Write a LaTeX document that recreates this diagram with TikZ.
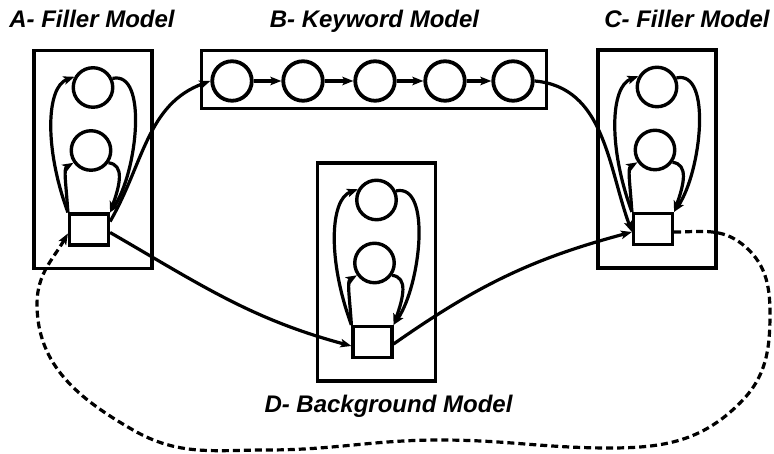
\documentclass[tikz,border=0pt]{standalone}
\usepackage{fontspec}
\setmainfont{Liberation Sans}
\usetikzlibrary{arrows.meta}

\tikzset{
  frame/.style={line width=3.2pt},
  state/.style={circle, draw, line width=3.4pt, minimum size=39.5pt, inner sep=0pt},
  kwstate/.style={state, line width=3.8pt},
  silent/.style={rectangle, draw, line width=3.2pt, minimum width=39pt, minimum height=31pt, inner sep=0pt},
  conn/.style={line width=3.2pt, -{Stealth[length=11pt,width=8.5pt,inset=2.5pt]}},
  backloop/.style={conn, dash pattern=on 7pt off 4pt},
  title/.style={font=\fontsize{24}{27}\selectfont\bfseries\itshape, anchor=base, inner sep=0pt},
  % one filler / background HMM: two emitting states and a silent state in a frame
  hmm/.pic={
    \draw[frame] (-59,-109) rectangle (59,109);
    \node[state] (-c1) at (0,72) {};
    \node[state] (-c2) at (-2,9) {};
    \node[silent] (-sq) at (-4,-70) {};
    \draw[conn] (-sq.north west) .. controls +(-24,65) and +(-28,-10) .. (-c1.150);
    \draw[conn] (-c1.25) .. controls +(36,8) and +(27,40) .. (-sq.north east);
    \draw[conn] (-sq.north west) .. controls +(-2,30) and +(-10,-6) .. (-c2.215);
    \draw[conn] (-c2.-35) .. controls +(16,-2) and +(10,28) .. (-sq.north east);
  }
}

\begin{document}
\begin{tikzpicture}[x=1pt,y=1pt]
  \useasboundingbox (0,0) rectangle (774,454);

  % filler and background models
  \pic (A) at (93,294.5) {hmm};
  \pic (C) at (657,295) {hmm};
  \pic (D) at (376.5,182) {hmm};

  % keyword model: left-to-right chain of states
  \draw[frame] (201.6,345.6) rectangle (546.4,403.4);
  \foreach \i/\x in {1/232,2/303,3/375,4/445,5/513}
    \node[kwstate] (B\i) at (\x,373) {};
  \foreach \i/\j in {1/2,2/3,3/4,4/5}
    \draw[conn] (B\i.east) -- (B\j.west);

  % transitions between the models
  \draw[conn] ([yshift=8pt]A-sq.east) to[out=60,in=200] (B1.west);
  \draw[conn] (B5.east) to[out=-5,in=110] ([yshift=-3pt]C-sq.west);
  \draw[conn] ([yshift=-3pt]A-sq.east) to[out=-30,in=165] ([yshift=-4pt]D-sq.west);
  \draw[conn] ([yshift=-2pt]D-sq.east) to[out=35,in=195] ([yshift=-3pt]C-sq.west);

  % dashed return path from C back to A
  \coordinate (w1) at (742,210);
  \coordinate (w2) at (770,141);
  \coordinate (w3) at (740,51);
  \coordinate (w4) at (610,6);
  \coordinate (w5) at (440,14);
  \coordinate (w6) at (267,4);
  \coordinate (w7) at (133,24);
  \coordinate (w8) at (37,150);
  \draw[backloop] ([yshift=-3pt]C-sq.east) to[out=0,in=142] (w1)
    to[out=-38,in=90] (w2) to[out=-90,in=45] (w3) to[out=-135,in=0] (w4)
    to[out=180,in=0] (w5) to[out=180,in=0] (w6) to[out=180,in=-30] (w7)
    to[out=150,in=-90] (w8) to[out=90,in=240] ([yshift=-4pt]A-sq.west);

  % captions
  \node[title] (tA) at (92,426) {A- Filler Model};
  \node[title] (tB) at (374.5,426) {B- Keyword Model};
  \node[title] (tC) at (687,426) {C- Filler Model};
  \node[title] (tD) at (388.5,41) {D- Background Model};
\end{tikzpicture}
\end{document}
